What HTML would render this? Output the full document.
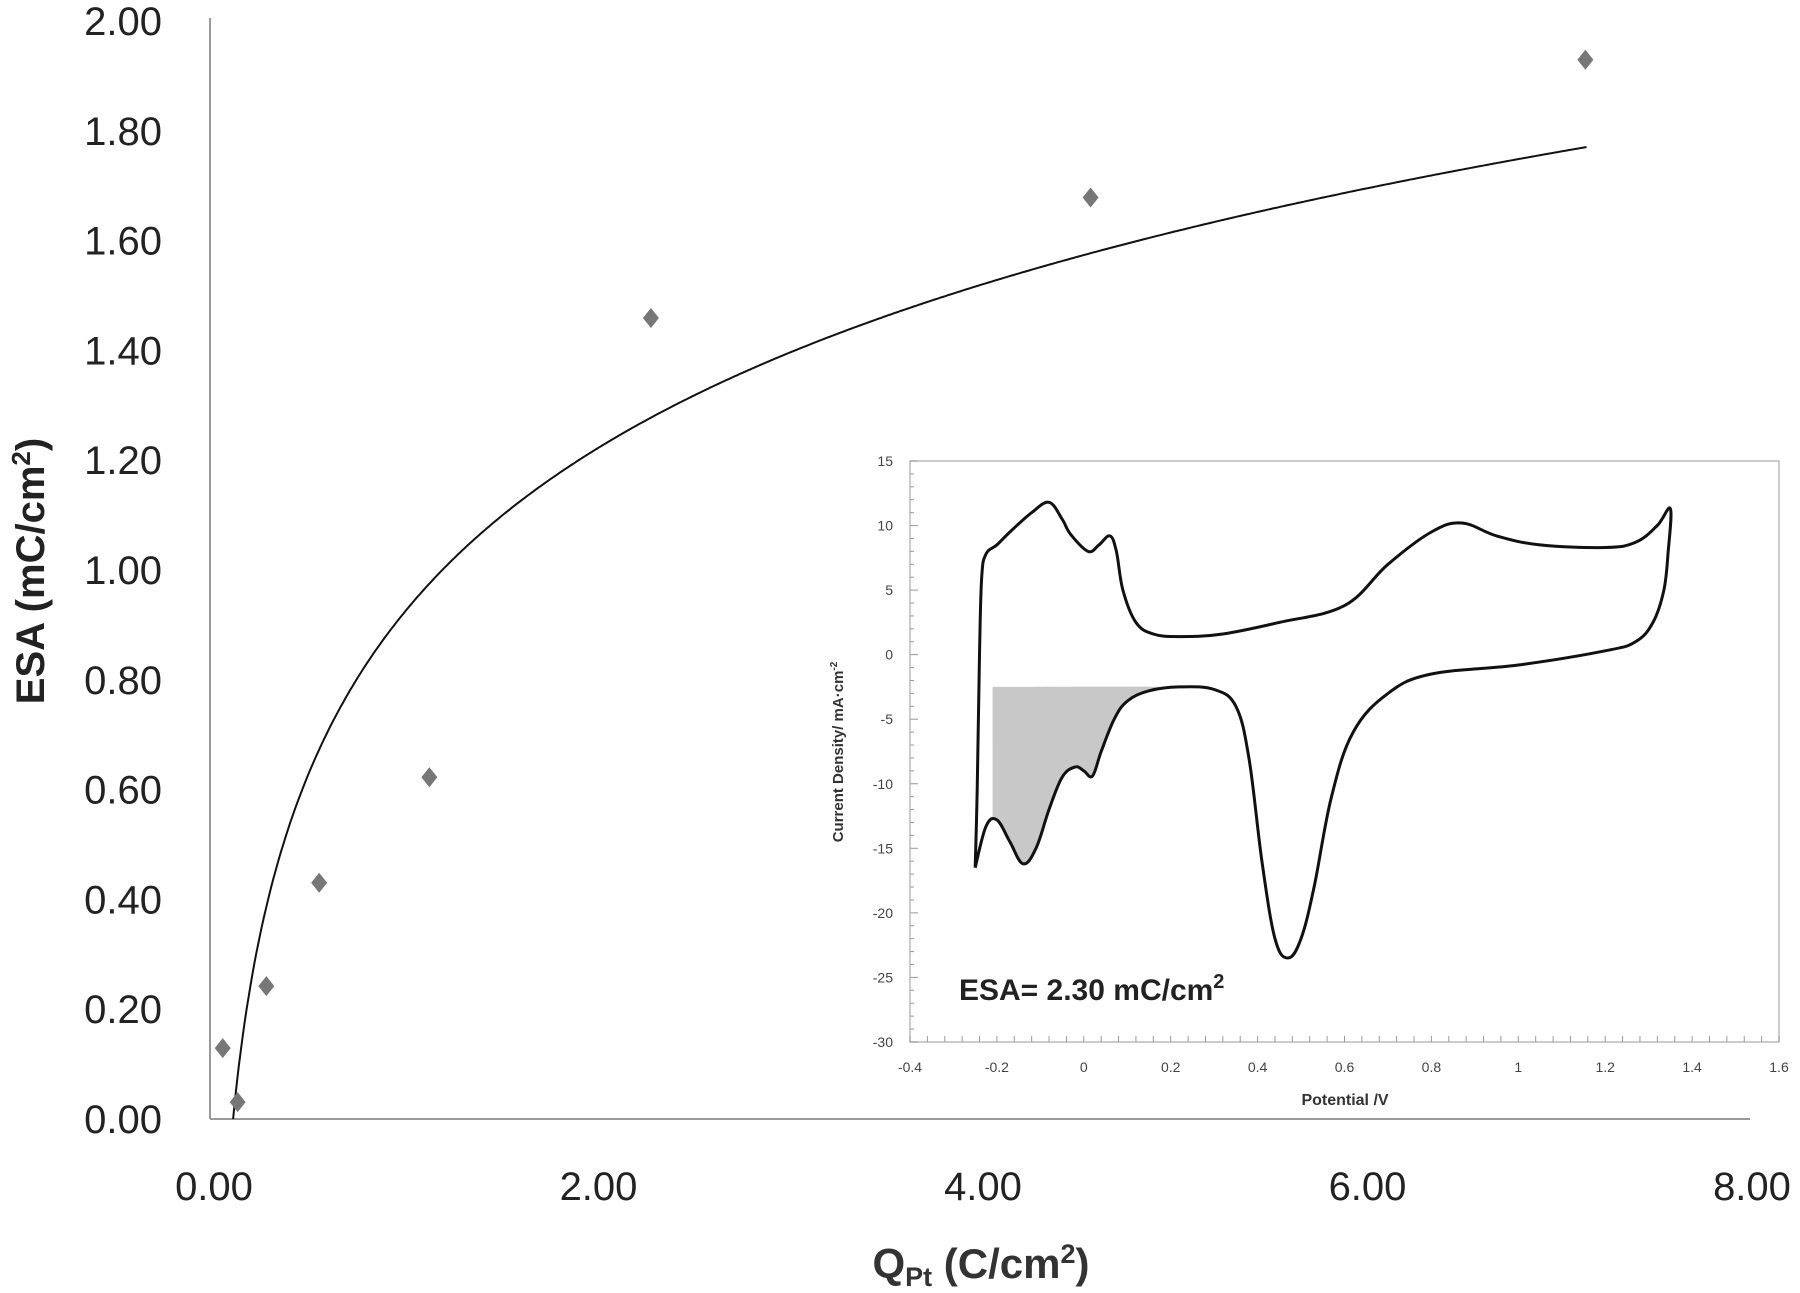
<!DOCTYPE html>
<html><head><meta charset="utf-8"><style>
html,body{margin:0;padding:0;background:#fff;}
svg{display:block;font-family:"Liberation Sans",sans-serif;}
</style></head><body>
<svg id="s" width="1800" height="1293" viewBox="0 0 1800 1293" xmlns="http://www.w3.org/2000/svg">
<rect width="1800" height="1293" fill="#fff"/>
<g id="main"></g>
<g id="inset"></g>
<text x="0" y="0" transform="translate(44,571) rotate(-90)" text-anchor="middle" font-size="40" font-weight="bold" fill="#222">ESA (mC/cm<tspan font-size="26" dy="-14">2</tspan><tspan dy="14">)</tspan></text>
<text x="981" y="1278" text-anchor="middle" font-size="42" font-weight="bold" fill="#333">Q<tspan font-size="27" dy="8">Pt</tspan><tspan dy="-8"> (C/cm</tspan><tspan font-size="27" dy="-15">2</tspan><tspan dy="15">)</tspan></text>
<text x="959" y="1000" font-size="30" font-weight="bold" fill="#222">ESA= 2.30 mC/cm<tspan font-size="20" dy="-12">2</tspan></text>
<text x="1345" y="1105" text-anchor="middle" font-size="16" font-weight="bold" fill="#333">Potential /V</text>
<text transform="translate(843,752) rotate(-90)" text-anchor="middle" font-size="15" font-weight="bold" fill="#333">Current Density/ mA·cm<tspan font-size="10" dy="-6">-2</tspan></text>
</svg>
<script>
var NS="http://www.w3.org/2000/svg";
function el(p,t,a,txt){var e=document.createElementNS(NS,t);for(var k in a)e.setAttribute(k,a[k]);if(txt!=null)e.textContent=txt;p.appendChild(e);return e;}
var m=document.getElementById('main');
var X=function(q){return 210+192.25*q}, Y=function(v){return 1119-549*v};
el(m,'line',{x1:210,y1:18,x2:210,y2:1119,stroke:'#999','stroke-width':2});
el(m,'line',{x1:210,y1:1119,x2:1750,y2:1119,stroke:'#999','stroke-width':2});
for(var i=0;i<=10;i++){var v=i*0.2;el(m,'text',{x:162,y:Y(v)+14,'text-anchor':'end','font-size':40,fill:'#222'},v.toFixed(2));}
for(var i=0;i<=4;i++){var q=i*2;el(m,'text',{x:X(q)+4,y:1200,'text-anchor':'middle','font-size':40,fill:'#222'},q.toFixed(2));}
var d='';for(var q=0.12;q<=7.16;q+=0.01){var y=0.433*Math.log(q/0.12);d+=(d?'L':'M')+X(q).toFixed(1)+','+Y(y).toFixed(1);}
el(m,'path',{d:d,fill:'none',stroke:'#111','stroke-width':2});
var pts=[[194,913],[207,960],[232,859],[278,769],[374,677],[567,277],[950,172],[1381,52]];
pts.forEach(function(p){var x=p[0]*1.148,y=p[1]*1.148,r=10;el(m,'polygon',{points:(x)+','+(y-r)+' '+(x+r*0.8)+','+y+' '+x+','+(y+r)+' '+(x-r*0.8)+','+y,fill:'#777'});});
var g=document.getElementById('inset');
var IX=function(v){return 910+434.5*(v+0.4)}, IY=function(c){return 461+12.91*(15-c)};
el(g,'rect',{x:910,y:461,width:869,height:581,fill:'none',stroke:'#bbb','stroke-width':1.5});
for(var c=-30;c<=15;c+=5){el(g,'text',{x:893,y:IY(c)+5,'text-anchor':'end','font-size':14,fill:'#444'},String(c));}
for(var c=-30;c<=15;c+=1){el(g,'line',{x1:910,x2:c%5==0?918:914,y1:IY(c),y2:IY(c),stroke:'#999'});}
var xl=['-0.4','-0.2','0','0.2','0.4','0.6','0.8','1','1.2','1.4','1.6'];
for(var i=0;i<=10;i++){var v=-0.4+0.2*i;el(g,'text',{x:IX(v),y:1072,'text-anchor':'middle','font-size':14,fill:'#444'},xl[i]);}
for(var v=-0.4;v<=1.601;v+=0.04){el(g,'line',{x1:IX(v),x2:IX(v),y1:1042,y2:1036,stroke:'#999'});}
var up=[[-0.25,-16.5],[-0.245,-10],[-0.24,0],[-0.235,6],[-0.225,7.8],[-0.2,8.5],[-0.17,9.5],[-0.12,11],[-0.08,11.8],[-0.05,10.5],[-0.03,9.3],[0.01,8],[0.035,8.5],[0.06,9.2],[0.075,8],[0.09,5],[0.12,2.5],[0.16,1.6],[0.22,1.4],[0.32,1.6],[0.45,2.5],[0.6,3.8],[0.7,7],[0.8,9.5],[0.87,10.2],[0.95,9.2],[1.05,8.5],[1.2,8.3],[1.27,8.7],[1.32,10],[1.35,11.3],
[1.345,8],[1.335,5],[1.31,2.5],[1.27,1.0],[1.2,0.3],[1.0,-0.8],[0.8,-1.5],[0.7,-3],[0.62,-6],[0.57,-11],[0.53,-18],[0.5,-22],[0.47,-23.5],[0.44,-22],[0.41,-16],[0.38,-8],[0.35,-4],[0.3,-2.7],[0.22,-2.5],[0.15,-2.8],[0.1,-3.6],[0.07,-5],[0.04,-7.5],[0.02,-9.4],[0.0,-9],[-0.02,-8.7],[-0.05,-9.5],[-0.08,-12],[-0.11,-15],[-0.14,-16.2],[-0.17,-14.5],[-0.2,-12.8],[-0.225,-13.3],[-0.25,-16.5]];
function smooth(a){var p=a.map(function(q){return [IX(q[0]),IY(q[1])]});var s='M'+p[0][0]+','+p[0][1];
for(var i=0;i<p.length-1;i++){var p0=p[i-1]||p[i],p1=p[i],p2=p[i+1],p3=p[i+2]||p2;var t=0.18;
var c1=[p1[0]+(p2[0]-p0[0])*t,p1[1]+(p2[1]-p0[1])*t],c2=[p2[0]-(p3[0]-p1[0])*t,p2[1]-(p3[1]-p1[1])*t];
s+='C'+c1[0].toFixed(1)+','+c1[1].toFixed(1)+' '+c2[0].toFixed(1)+','+c2[1].toFixed(1)+' '+p2[0].toFixed(1)+','+p2[1].toFixed(1);}return s;}
var sh=[[-0.21,-2.5],[0.18,-2.5],[0.15,-2.8],[0.1,-3.6],[0.07,-5],[0.04,-7.5],[0.02,-9.4],[0.0,-9],[-0.02,-8.7],[-0.05,-9.5],[-0.08,-12],[-0.11,-15],[-0.14,-16.2],[-0.17,-14.5],[-0.2,-12.8],[-0.21,-12.9]];
el(g,'path',{d:smooth(sh)+'Z',fill:'#c8c8c8'});
el(g,'path',{d:smooth(up),fill:'none',stroke:'#111','stroke-width':3,'stroke-linejoin':'round'});
</script>
</body></html>
